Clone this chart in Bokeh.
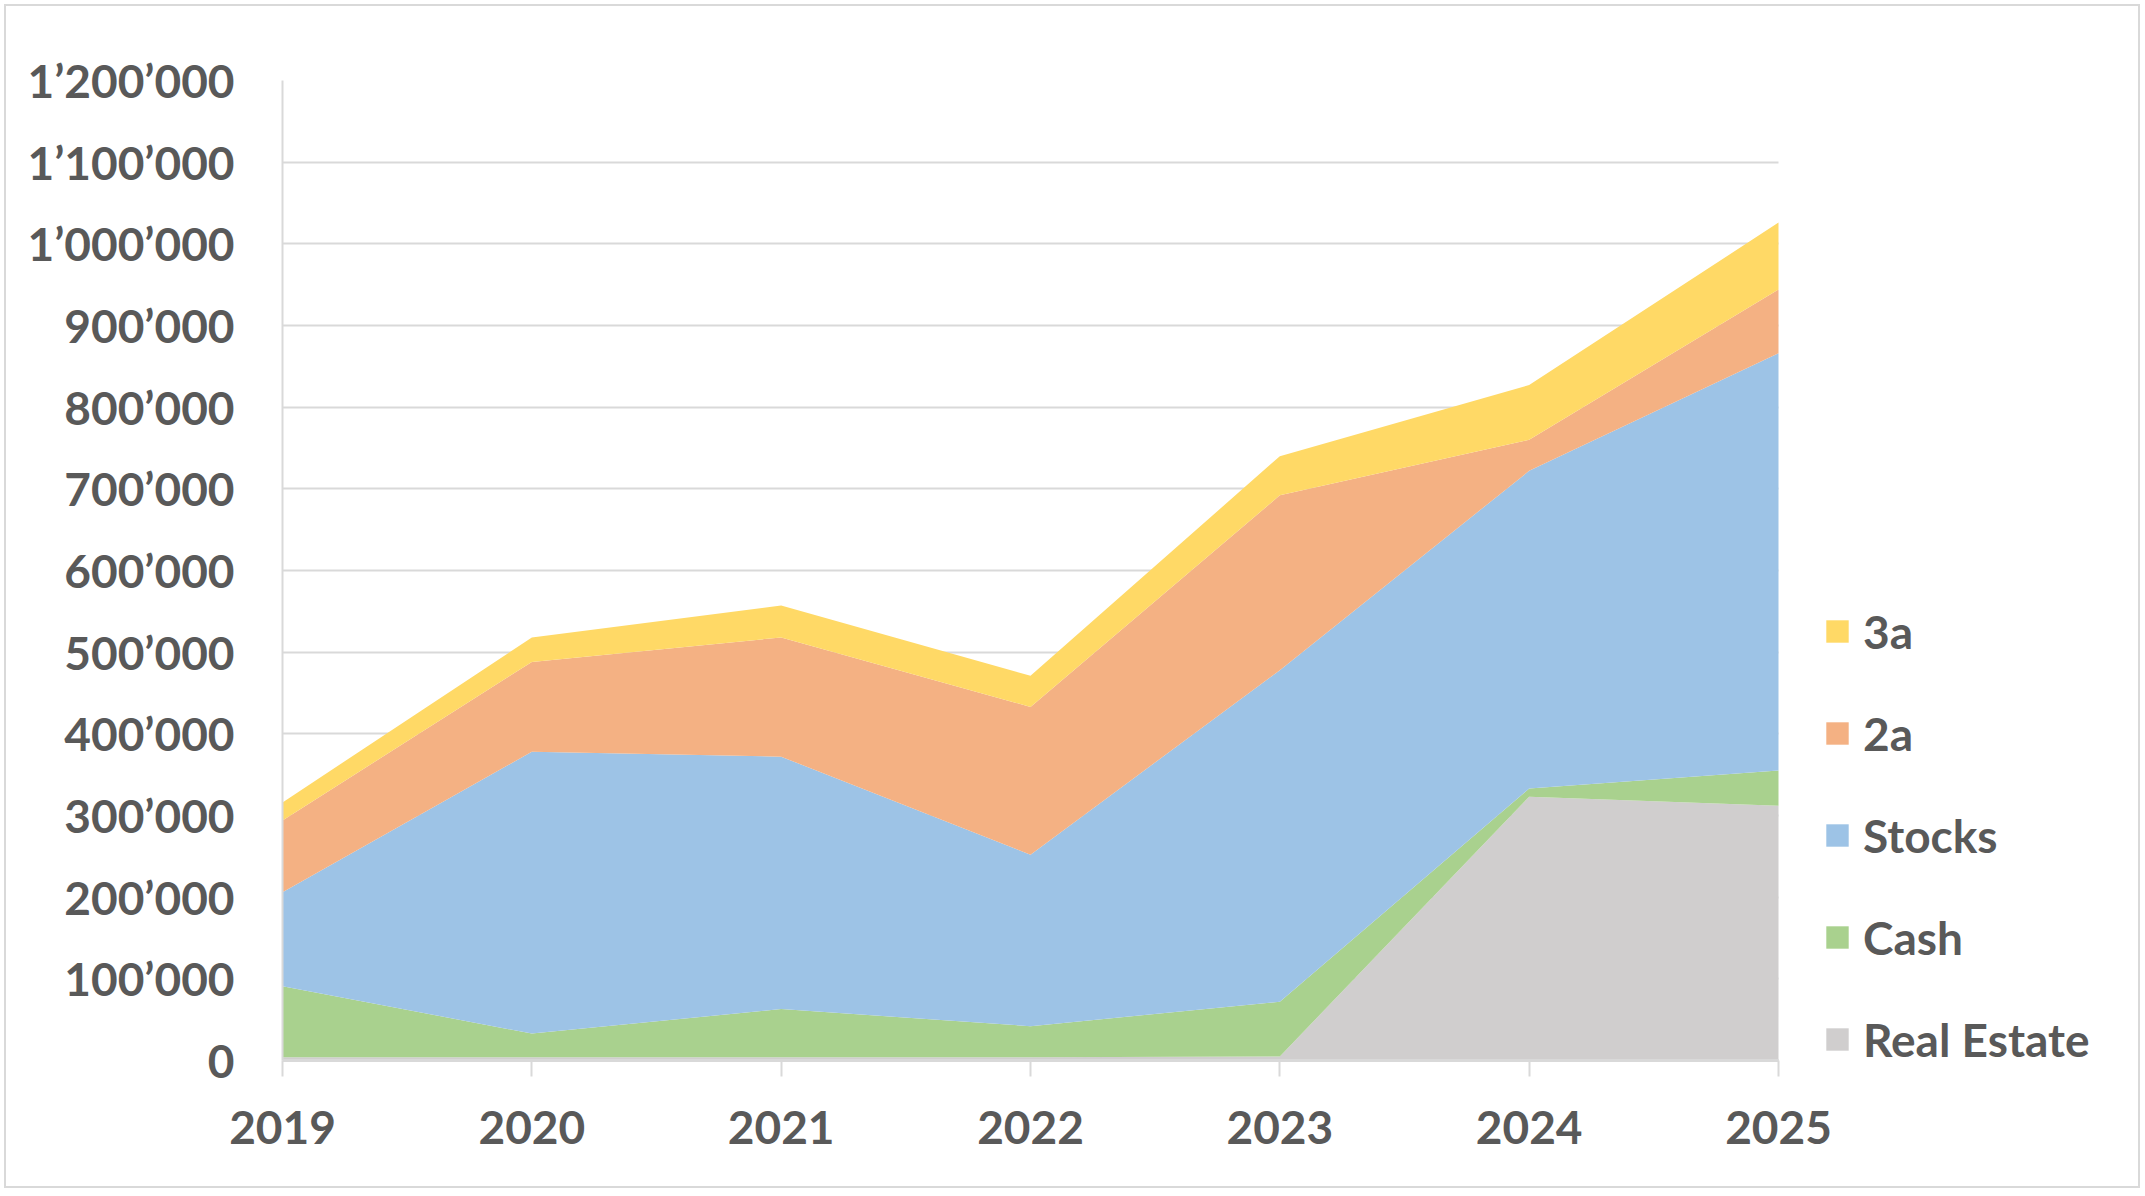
from bokeh.plotting import figure
from bokeh.models import Range1d, FixedTicker, Legend, LegendItem, ColumnDataSource, Grid
from bokeh.layouts import column
from bokeh.embed import file_html
from bokeh.resources import INLINE

# ---- data ----
years = [2019, 2020, 2021, 2022, 2023, 2024, 2025]
real_estate = [4000, 4000, 4000, 4000, 5000, 323000, 312000]
cash = [87000, 29000, 59000, 38000, 67000, 10000, 43000]
stocks = [115000, 345000, 309000, 210000, 406000, 389000, 511000]
pillar_2a = [88000, 110000, 146000, 181000, 214000, 38000, 78000]
pillar_3a = [22000, 30000, 39000, 38000, 48000, 67000, 82000]
series_keys = ["real_estate", "cash", "stocks", "p2a", "p3a"]
series_names = ["Real Estate", "Cash", "Stocks", "2a", "3a"]
series_colors = ["#D0CECE", "#A9D18E", "#9DC3E6", "#F4B183", "#FFD966"]
y_ticks = [0, 100000, 200000, 300000, 400000, 500000, 600000,
           700000, 800000, 900000, 1000000, 1100000, 1200000]
y_tick_labels = ["0", "100\u2019000", "200\u2019000", "300\u2019000", "400\u2019000",
                 "500\u2019000", "600\u2019000", "700\u2019000", "800\u2019000",
                 "900\u2019000", "1\u2019000\u2019000", "1\u2019100\u2019000",
                 "1\u2019200\u2019000"]
x_tick_labels = ["2019", "2020", "2021", "2022", "2023", "2024", "2025"]

source = ColumnDataSource(dict(year=years, real_estate=real_estate, cash=cash,
                               stocks=stocks, p2a=pillar_2a, p3a=pillar_3a))

FONT = "Lato"
TXT = "#595959"
GRID = "#D9D9D9"

# layout (pixels): the data area is 1496 x 980 px; the frame is extended to the
# right (for the legend) and by the tick length below zero
W, H = 2132, 1180
LEFT, TOP, RIGHT = 276, 74, 38
TICK = 16
BOTTOM = 126 - TICK
data_w_px, data_h_px = 1496.0, 980.0
frame_w = W - LEFT - RIGHT
x_start, x_end_data = years[0], years[-1]
x_end = x_start + frame_w * (x_end_data - x_start) / data_w_px
y_top = y_ticks[-1]
y_start = -TICK * y_top / data_h_px

p = figure(width=W, height=H, output_backend="svg", toolbar_location=None,
           x_range=Range1d(x_start, x_end), y_range=Range1d(y_start, y_top),
           min_border_left=LEFT, min_border_right=RIGHT, min_border_top=TOP,
           min_border_bottom=BOTTOM)
p.outline_line_color = None
p.background_fill_color = "white"
p.border_fill_color = "white"

renderers = p.varea_stack(stackers=series_keys, x="year", color=series_colors,
                          source=source)
# category axis line at zero
p.segment(x0=[x_start], x1=[x_end_data], y0=[0], y1=[0], line_color=GRID,
          line_width=3)

# axes
p.yaxis.ticker = FixedTicker(ticks=y_ticks)
p.yaxis.major_label_overrides = {t: l for t, l in zip(y_ticks, y_tick_labels)}
p.yaxis.bounds = (0, y_top)
p.xaxis.ticker = FixedTicker(ticks=years)
p.xaxis.major_label_overrides = {t: l for t, l in zip(years, x_tick_labels)}
for ax in (p.xaxis[0], p.yaxis[0]):
    ax.major_label_text_font = FONT
    ax.major_label_text_font_style = "bold"
    ax.major_label_text_font_size = "46px"
    ax.major_label_text_color = TXT
    ax.minor_tick_line_color = None
p.yaxis.major_tick_in = 0
p.yaxis.major_tick_out = 0
p.yaxis.major_tick_line_color = None
p.yaxis.axis_line_color = GRID
p.yaxis.axis_line_width = 2
p.yaxis.major_label_standoff = 48
p.xaxis.axis_line_color = None
p.xaxis.major_tick_line_color = GRID
p.xaxis.major_tick_line_width = 2
p.xaxis.major_tick_in = TICK
p.xaxis.major_tick_out = 0
p.xaxis.major_label_standoff = 34

p.xgrid.grid_line_color = None
if "cross_bounds" in Grid.properties():
    p.ygrid.grid_line_color = GRID
    p.ygrid.grid_line_width = 2
    p.ygrid.cross_bounds = (x_start, x_end_data)
    p.ygrid.level = "underlay"
else:
    p.ygrid.grid_line_color = None
    gx0 = [x_start] * len(y_ticks)
    gx1 = [x_end_data] * len(y_ticks)
    p.segment(x0=gx0, x1=gx1, y0=y_ticks, y1=y_ticks, line_color=GRID,
              line_width=2, level="underlay")

items = []
for r, name in zip(reversed(renderers), reversed(series_names)):
    items.append(LegendItem(label=name, renderers=[r]))
legend = Legend(items=items, location=(1541, TICK - 9), glyph_width=28,
                glyph_height=28, label_height=60, spacing=42, padding=0, margin=0,
                label_standoff=12, border_line_color=None, background_fill_alpha=0,
                label_text_font=FONT, label_text_font_style="bold",
                label_text_font_size="46px", label_text_color=TXT)
p.add_layout(legend)

page = column(p, styles={"border": "2px solid #D9D9D9"}, margin=(4, 4, 4, 4))

open("out.html", "w").write(file_html(page, INLINE))
